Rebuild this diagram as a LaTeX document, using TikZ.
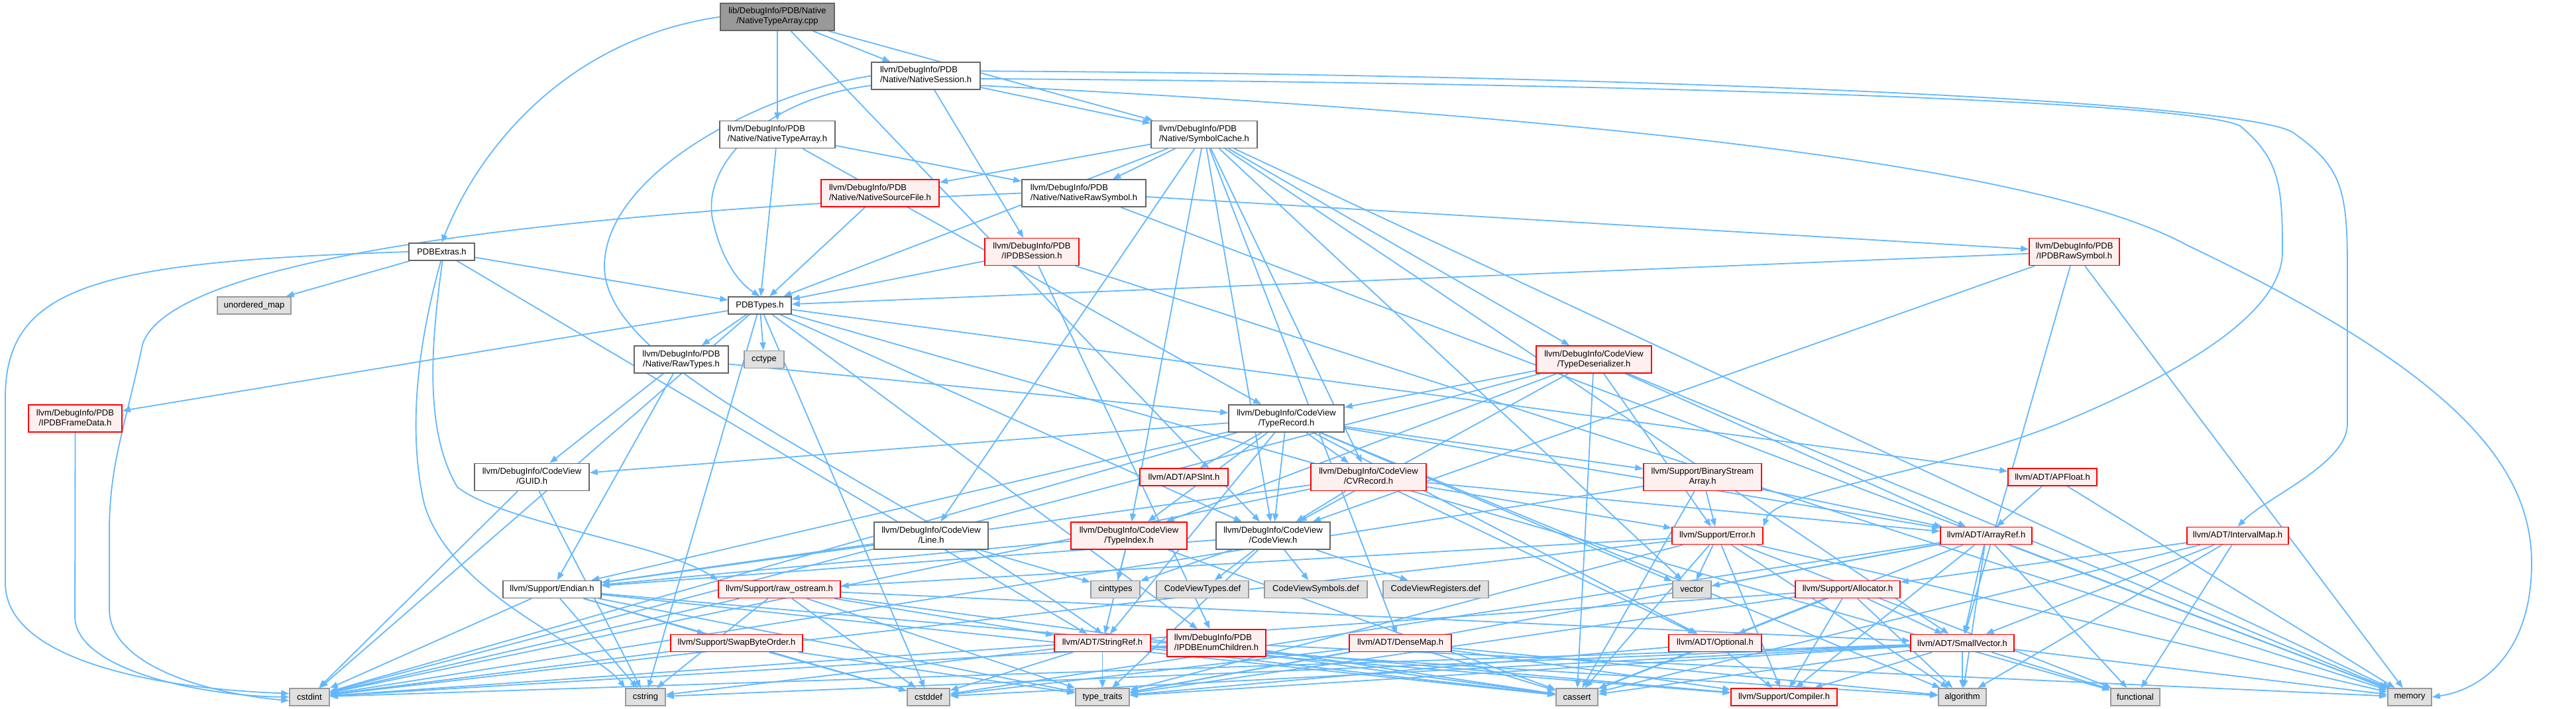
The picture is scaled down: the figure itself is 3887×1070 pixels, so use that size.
\documentclass[tikz,border=0pt]{standalone}
\usepackage{fontspec}
\setmainfont{Liberation Sans}
\usetikzlibrary{arrows.meta}
\definecolor{eblue}{HTML}{63B8FF}
\definecolor{bgrey}{HTML}{666666}
\definecolor{sgrey}{HTML}{999999}
\definecolor{sfill}{HTML}{E0E0E0}
\definecolor{rfill}{HTML}{FFF0F0}
\definecolor{rborder}{HTML}{FF0000}
\definecolor{rootfill}{HTML}{999999}
\pgfdeclarelayer{bg}
\pgfsetlayers{bg,main}
\newcommand\twol[2]{\begin{tabular}{@{}l@{}}#1\\\multicolumn{1}{@{}c@{}}{#2}\end{tabular}}
\tikzset{
  nd/.style={rectangle, inner sep=0pt, minimum height=26pt, line width=1.6pt, font=\fontsize{13}{15}\selectfont},
  wn/.style={nd, draw=bgrey, fill=white},
  rn/.style={nd, draw=rborder, fill=rfill},
  gn/.style={nd, draw=sgrey, fill=sfill},
  rootn/.style={nd, draw=bgrey, fill=rootfill},
  tall/.style={minimum height=41pt},
  edg/.style={draw=eblue, line width=1.8pt, -{Triangle[length=12pt,width=9pt]}}
}
\begin{document}
\begin{tikzpicture}[x=1pt,y=-1pt]
\useasboundingbox (0,0) rectangle (3887,1070);
% ---------------- nodes ----------------
\node[rootn,tall,minimum width=172pt] (root) at (1173,25.5) {\twol{lib/DebugInfo/PDB/Native}{/NativeTypeArray.cpp}};
\node[wn,tall,minimum width=164pt] (NSession) at (1397,114.5) {\twol{llvm/DebugInfo/PDB}{/Native/NativeSession.h}};
\node[wn,tall,minimum width=174pt] (NTAh) at (1173,203) {\twol{llvm/DebugInfo/PDB}{/Native/NativeTypeArray.h}};
\node[wn,tall,minimum width=160pt] (SymCache) at (1817,203) {\twol{llvm/DebugInfo/PDB}{/Native/SymbolCache.h}};
\node[rn,tall,minimum width=178pt] (NSourceFile) at (1328,291.5) {\twol{llvm/DebugInfo/PDB}{/Native/NativeSourceFile.h}};
\node[wn,tall,minimum width=187pt] (NRawSym) at (1635.5,291.5) {\twol{llvm/DebugInfo/PDB}{/Native/NativeRawSymbol.h}};
\node[wn,minimum width=99pt] (PDBExtras) at (666.5,380) {PDBExtras.h};
\node[rn,tall,minimum width=142pt] (IPDBSession) at (1557,380) {\twol{llvm/DebugInfo/PDB}{/IPDBSession.h}};
\node[rn,tall,minimum width=136pt] (IPDBRawSym) at (3130,380) {\twol{llvm/DebugInfo/PDB}{/IPDBRawSymbol.h}};
\node[gn,minimum width=111pt] (umap) at (383.5,461) {unordered\_map};
\node[wn,minimum width=95pt] (PDBTypes) at (1146.5,461) {PDBTypes.h};
\node[wn,tall,minimum width=142pt] (RawTypes) at (1028,542.5) {\twol{llvm/DebugInfo/PDB}{/Native/RawTypes.h}};
\node[gn,minimum width=60pt] (cctype) at (1153,542.5) {cctype};
\node[rn,tall,minimum width=174pt] (TypeDeser) at (2405,542.5) {\twol{llvm/DebugInfo/CodeView}{/TypeDeserializer.h}};
\node[rn,tall,minimum width=141pt] (IPDBFrameData) at (113.5,631.5) {\twol{llvm/DebugInfo/PDB}{/IPDBFrameData.h}};
\node[wn,tall,minimum width=174pt] (TypeRecord) at (1941,631.5) {\twol{llvm/DebugInfo/CodeView}{/TypeRecord.h}};
\node[wn,tall,minimum width=173pt] (GUID) at (802.5,720) {\twol{llvm/DebugInfo/CodeView}{/GUID.h}};
\node[rn,minimum width=133pt] (APSInt) at (1786.5,720) {llvm/ADT/APSInt.h};
\node[rn,tall,minimum width=174pt] (CVRecord) at (2065,720) {\twol{llvm/DebugInfo/CodeView}{/CVRecord.h}};
\node[rn,tall,minimum width=178pt] (BSArray) at (2569,720) {\twol{llvm/Support/BinaryStream}{Array.h}};
\node[rn,minimum width=134pt] (APFloat) at (3097,720) {llvm/ADT/APFloat.h};
\node[wn,tall,minimum width=172pt] (Line) at (1405,808.5) {\twol{llvm/DebugInfo/CodeView}{/Line.h}};
\node[rn,tall,minimum width=175pt] (TypeIndex) at (1703.5,808.5) {\twol{llvm/DebugInfo/CodeView}{/TypeIndex.h}};
\node[wn,tall,minimum width=172pt] (CodeView) at (1921,808.5) {\twol{llvm/DebugInfo/CodeView}{/CodeView.h}};
\node[rn,minimum width=137pt] (Error) at (2591.5,808.5) {llvm/Support/Error.h};
\node[rn,minimum width=138pt] (ArrayRef) at (2997,808.5) {llvm/ADT/ArrayRef.h};
\node[rn,minimum width=153pt] (IntervalMap) at (3376.5,808.5) {llvm/ADT/IntervalMap.h};
\node[wn,minimum width=148pt] (Endian) at (833,889.5) {llvm/Support/Endian.h};
\node[rn,minimum width=184pt] (rawos) at (1176,889.5) {llvm/Support/raw\_ostream.h};
\node[gn,minimum width=74pt] (cinttypes) at (1683,889.5) {cinttypes};
\node[gn,minimum width=139pt] (CVTypesDef) at (1814.5,889.5) {CodeViewTypes.def};
\node[gn,minimum width=155pt] (CVSymDef) at (1985.5,889.5) {CodeViewSymbols.def};
\node[gn,minimum width=159pt] (CVRegDef) at (2166.5,889.5) {CodeViewRegisters.def};
\node[gn,minimum width=58pt] (vector) at (2553,889.5) {vector};
\node[rn,minimum width=158pt] (Allocator) at (2788,889.5) {llvm/Support/Allocator.h};
\node[rn,minimum width=199pt] (SwapBO) at (1111.5,970.5) {llvm/Support/SwapByteOrder.h};
\node[rn,minimum width=145pt] (StringRef) at (1663.5,970.5) {llvm/ADT/StringRef.h};
\node[rn,tall,minimum width=149pt] (IPDBEnum) at (1835.5,970.5) {\twol{llvm/DebugInfo/PDB}{/IPDBEnumChildren.h}};
\node[rn,minimum width=154pt] (DenseMap) at (2113,970.5) {llvm/ADT/DenseMap.h};
\node[rn,minimum width=140pt] (Optional) at (2588,970.5) {llvm/ADT/Optional.h};
\node[rn,minimum width=156pt] (SmallVector) at (2961,970.5) {llvm/ADT/SmallVector.h};
\node[gn,minimum width=60pt] (cstdint) at (467,1052) {cstdint};
\node[gn,minimum width=60pt] (cstring) at (974,1052) {cstring};
\node[gn,minimum width=64pt] (cstddef) at (1401,1052) {cstddef};
\node[gn,minimum width=81pt] (typetraits) at (1663.5,1052) {type\_traits};
\node[gn,minimum width=63pt] (cassert) at (2379.5,1052) {cassert};
\node[rn,minimum width=160pt] (Compiler) at (2692,1052) {llvm/Support/Compiler.h};
\node[gn,minimum width=72pt] (algorithm) at (2961,1052) {algorithm};
\node[gn,minimum width=74pt] (functional) at (3222,1052) {functional};
\node[gn,minimum width=66pt] (memory) at (3636,1052) {memory};
% ---------------- edges ----------------
\begin{pgfonlayer}{bg}
\fill[white] (0,0) rectangle (3887,1070);
% curved connectors
\draw[edg] (root.west) .. controls (850,60) and (720,230) .. (PDBExtras.north);
\draw[edg] (PDBExtras.west) .. controls (150,395) and (8,430) .. (8,600) -- (8,880) .. controls (8,1000) and (250,1040) .. (cstdint.170);
\draw[edg] (PDBExtras.265) .. controls (630,520) and (615,650) .. (640,760) .. controls (680,900) and (900,980) .. (cstring.north west);
\draw[edg] (PDBExtras.275) .. controls (650,520) and (640,650) .. (690,735) .. controls (760,790) and (1000,820) .. (rawos.north west);
\draw[edg] (IPDBFrameData.south) -- (113,930) .. controls (113,1010) and (300,1050) .. (cstdint.west);
\draw[edg] (NRawSym.west) .. controls (900,318) and (260,380) .. (215,520) .. controls (190,640) and (165,700) .. (165,800) -- (165,920) .. controls (165,1000) and (300,1045) .. (cstdint.190);
\draw[edg] (NSession.west) .. controls (1150,140) and (915,260) .. (912,400) .. controls (910,560) and (1300,700) .. (StringRef.north);
\draw[edg] (NSession.190) .. controls (1150,150) and (1060,250) .. (1075,330) .. controls (1090,400) and (1120,430) .. (PDBTypes.north);
\draw[edg] (NSession.5) .. controls (2400,112) and (3380,150) .. (3460,200) .. controls (3530,250) and (3542,280) .. (3542,400) -- (3542,640) .. controls (3542,700) and (3420,750) .. (IntervalMap.north);
\draw[edg] (NSession.-3) .. controls (2400,125) and (3300,150) .. (3380,190) .. controls (3440,240) and (3444,280) .. (3444,380) .. controls (3444,470) and (3300,560) .. (3105,640) .. controls (2900,720) and (2680,740) .. (Error.north east);
\draw[edg] (NSession.-10) .. controls (2500,180) and (3100,260) .. (3300,370) .. controls (3700,560) and (3820,700) .. (3820,850) .. controls (3820,980) and (3750,1040) .. (memory.east);
% straight connectors
\foreach \t in {NTAh,NSession,SymCache,CodeView} \draw[edg] (root) -- (\t);
\foreach \t in {SymCache,IPDBSession} \draw[edg] (NSession) -- (\t);
\foreach \t in {PDBTypes,NRawSym,TypeRecord} \draw[edg] (NTAh) -- (\t);
\foreach \t in {NSourceFile,NRawSym,PDBTypes,TypeDeser,CVRecord,CodeView,Line,TypeIndex,DenseMap,SmallVector,vector,memory} \draw[edg] (SymCache) -- (\t);
\draw[edg] (NSourceFile) -- (PDBTypes);
\foreach \t in {IPDBRawSym,memory} \draw[edg] (NRawSym) -- (\t);
\foreach \t in {PDBTypes,umap,StringRef} \draw[edg] (PDBExtras) -- (\t);
\foreach \t in {PDBTypes,IPDBEnum,memory} \draw[edg] (IPDBSession) -- (\t);
\foreach \t in {PDBTypes,CodeView,SmallVector,memory} \draw[edg] (IPDBRawSym) -- (\t);
\foreach \t in {RawTypes,cctype,IPDBFrameData,APFloat,CodeView,IPDBEnum,cstddef,cstdint,cstring,functional} \draw[edg] (PDBTypes) -- (\t);
\foreach \t in {GUID,TypeRecord,Endian} \draw[edg] (RawTypes) -- (\t);
\foreach \t in {TypeRecord,CodeView,TypeIndex,ArrayRef,Error,cassert,cstdint,memory} \draw[edg] (TypeDeser) -- (\t);
\foreach \t in {APSInt,ArrayRef,Optional,StringRef,CVRecord,CodeView,GUID,TypeIndex,BSArray,Endian,algorithm,cstdint,vector} \draw[edg] (TypeRecord) -- (\t);
\foreach \t in {cstdint,cstring} \draw[edg] (GUID) -- (\t);
\foreach \t in {ArrayRef,Optional,CodeView,Endian,Error,cstdint} \draw[edg] (CVRecord) -- (\t);
\foreach \t in {ArrayRef,Error,cassert,cstdint} \draw[edg] (BSArray) -- (\t);
\foreach \t in {ArrayRef,memory} \draw[edg] (APFloat) -- (\t);
\foreach \t in {Endian,cinttypes} \draw[edg] (Line) -- (\t);
\foreach \t in {StringRef,Endian,cassert,cinttypes} \draw[edg] (TypeIndex) -- (\t);
\foreach \t in {cinttypes,typetraits,Endian,CVTypesDef,CVSymDef,CVRegDef} \draw[edg] (CodeView) -- (\t);
\foreach \t in {rawos,vector,algorithm,cassert,cstdint,functional,memory,typetraits,Compiler} \draw[edg] (Error) -- (\t);
\foreach \t in {SmallVector,Compiler,algorithm,cassert,cstddef,functional,memory,typetraits,vector} \draw[edg] (ArrayRef) -- (\t);
\foreach \t in {Allocator,SmallVector,algorithm,functional,cassert} \draw[edg] (IntervalMap) -- (\t);
\foreach \t in {Compiler,SwapBO,cassert,cstddef,cstdint,cstring,typetraits} \draw[edg] (Endian) -- (\t);
\foreach \t in {SmallVector,StringRef,cassert,cstddef,cstdint,cstring,typetraits} \draw[edg] (rawos) -- (\t);
\foreach \t in {SmallVector,Optional,Compiler,algorithm,cassert,cstdint,typetraits} \draw[edg] (Allocator) -- (\t);
\foreach \t in {cstddef,cstdint,typetraits} \draw[edg] (SwapBO) -- (\t);
\foreach \t in {Compiler,algorithm,cassert,cstddef,cstring,typetraits} \draw[edg] (StringRef) -- (\t);
\foreach \t in {cassert,cstdint,memory} \draw[edg] (IPDBEnum) -- (\t);
\foreach \t in {Compiler,algorithm,cassert,cstddef,typetraits} \draw[edg] (DenseMap) -- (\t);
\foreach \t in {Compiler,cassert,typetraits} \draw[edg] (Optional) -- (\t);
\foreach \t in {Compiler,algorithm,cassert,cstddef,cstdint,cstring,functional,memory,typetraits} \draw[edg] (SmallVector) -- (\t);
\end{pgfonlayer}
\end{tikzpicture}
\end{document}
